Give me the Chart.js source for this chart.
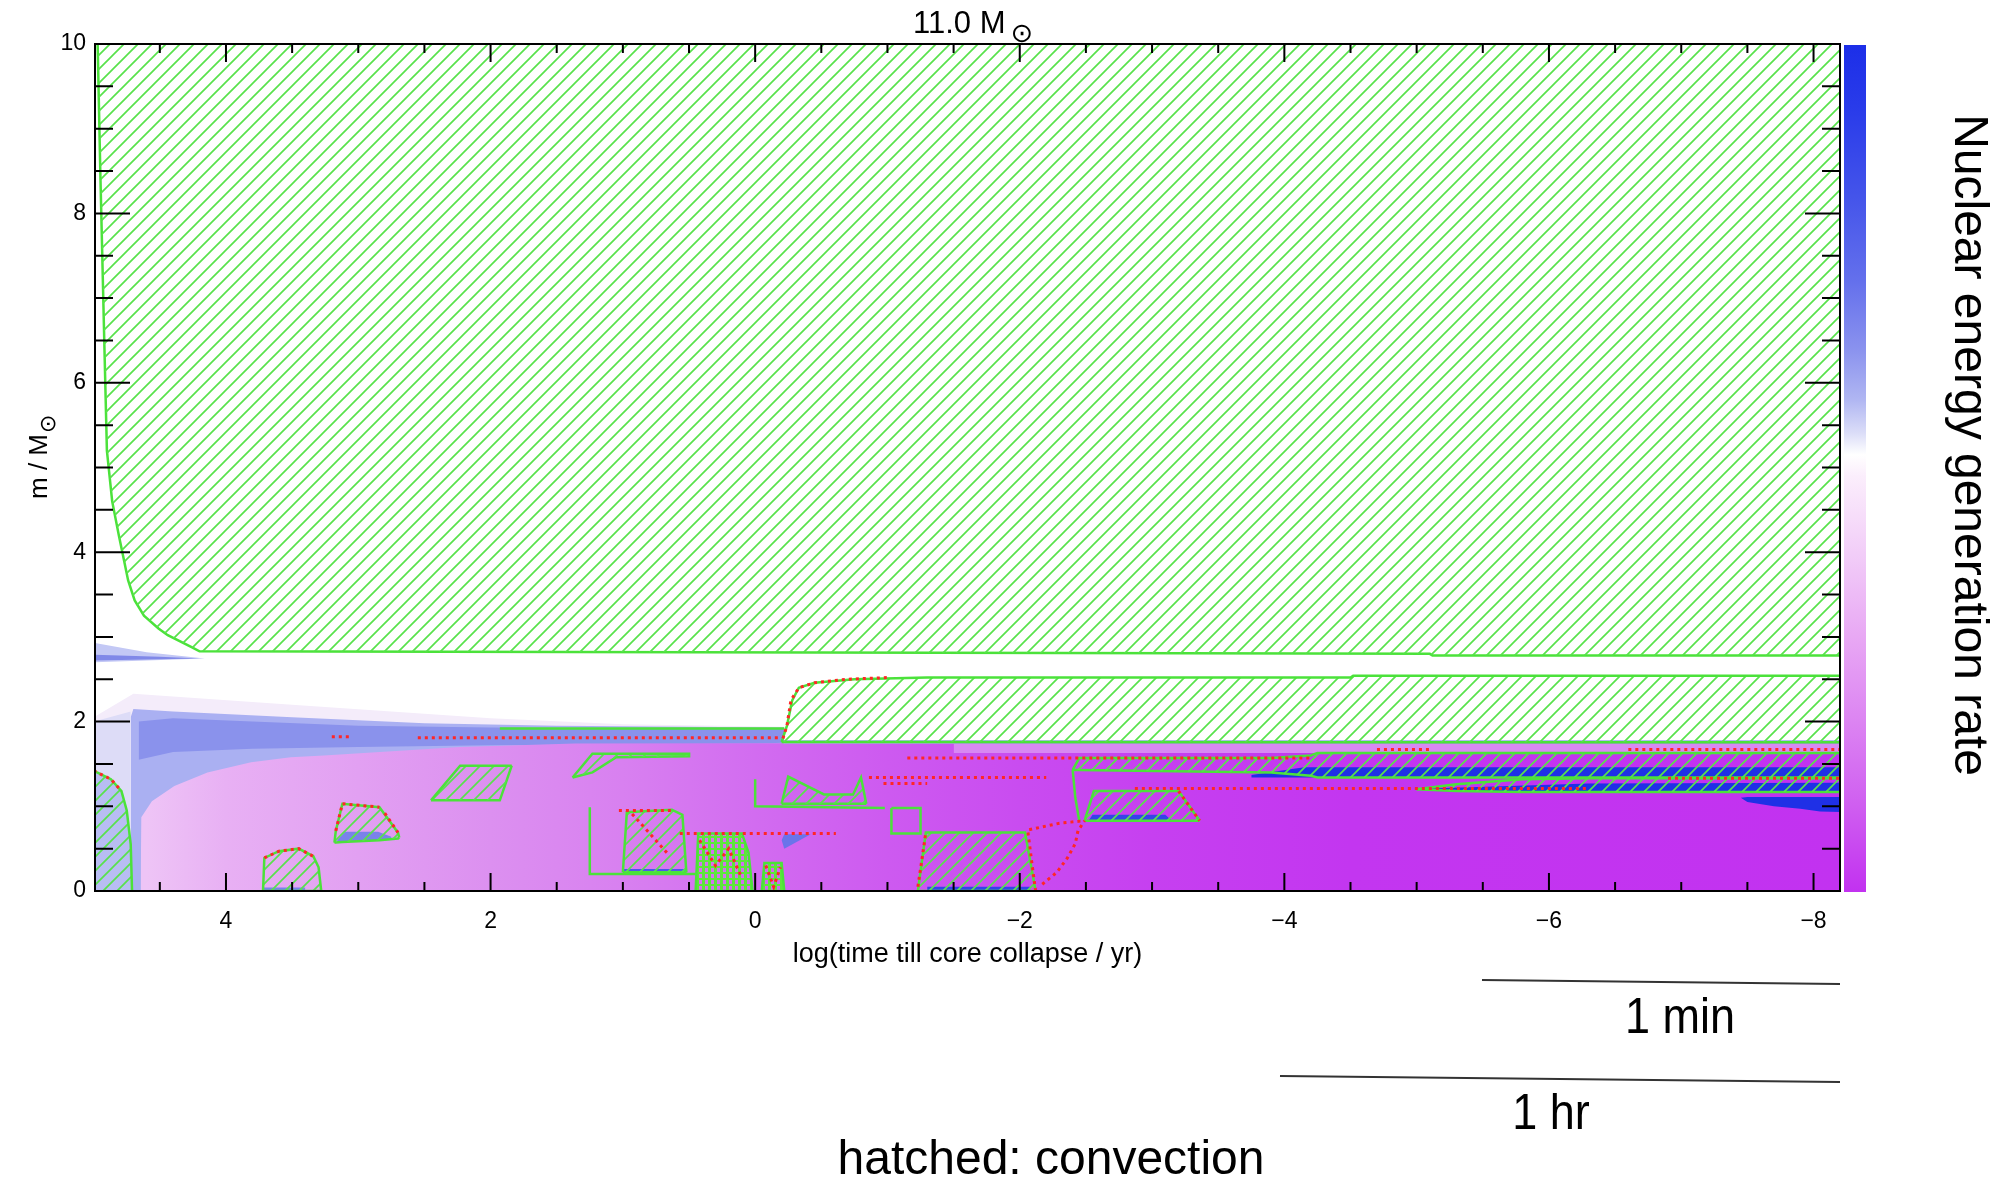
<!DOCTYPE html>
<html>
<head>
<meta charset="utf-8">
<script src="https://cdn.jsdelivr.net/npm/chart.js@4.4.1/dist/chart.umd.min.js"></script>
<style>
  html, body { margin: 0; padding: 0; background: #fff; overflow: hidden; }
</style>
</head>
<body>
<canvas id="kipp" width="2003" height="1179"></canvas>
<script>
// ---- axes ----
const xTicks = [4, 2, 0, -2, -4, -6, -8];
const yTicks = [0, 2, 4, 6, 8, 10];

// ---- colour field (energy generation), x = log(t / yr), y = m / Msun ----
const hazeX   = [5.00, 4.70, 3.50, 2.00, 1.00, -0.22];
const hazeTop = [2.05, 2.33, 2.20, 2.04, 1.97, 1.94];
const hazeBot = [0, 0, 0, 0, 0, 0];

const lavX   = [5.00, 4.72];
const lavTop = [2.00, 2.12];
const lavBot = [0, 0];

const blueLtX   = [4.72, 4.70, 4.40, 3.50, 2.50, 1.50, 0.50, -0.22];
const blueLtTop = [2.05, 2.15, 2.12, 2.05, 1.98, 1.95, 1.94, 1.93];
const blueLtBot = [0, 0, 0, 0, 0, 0, 0, 0];

const blueMidX   = [4.66, 4.40, 3.80, 3.00, 2.00, 1.00, 0.00, -0.22];
const blueMidTop = [2.00, 2.04, 2.00, 1.95, 1.93, 1.92, 1.92, 1.92];
const blueMidBot = [1.55, 1.64, 1.68, 1.70, 1.72, 1.73, 1.74, 1.75];

const pinkX   = [4.645, 4.64, 4.56, 4.39, 4.14, 3.81, 3.51, 3.26, 2.23, 1.36, 0.00, -8.30];
const pinkTop = [0.00, 0.87, 1.06, 1.24, 1.40, 1.52, 1.58, 1.60, 1.70, 1.74, 1.745, 1.745];
const pinkBot = [0, 0, 0, 0, 0, 0, 0, 0, 0, 0, 0, 0];

const stripeX   = [-0.22, -8.30];
const stripeTop = [1.78, 1.78];
const stripeBot = [1.74, 1.74];

const paleBandX   = [-1.50, -8.30];
const paleBandTop = [1.74, 1.74];
const paleBandBot = [1.63, 1.63];

const wedgeX   = [5.00, 4.60, 4.16];
const wedgeTop = [2.93, 2.82, 2.745];
const wedgeBot = [2.70, 2.72, 2.745];
const wedgeCoreX   = [5.00, 4.50, 4.20];
const wedgeCoreTop = [2.79, 2.765, 2.745];
const wedgeCoreBot = [2.72, 2.735, 2.745];

// strong burning patches (deep blue)
const b1X = [-3.75, -4.15, -8.30], b1Top = [1.37, 1.46, 1.46], b1Bot = [1.34, 1.34, 1.34];
const b2X = [-5.10, -6.30, -8.30], b2Top = [1.21, 1.27, 1.28], b2Bot = [1.18, 1.17, 1.17];
const b3X = [-7.45, -7.50, -7.70, -7.90, -8.05, -8.30];
const b3Top = [1.10, 1.11, 1.11, 1.11, 1.11, 1.11];
const b3Bot = [1.10, 1.05, 1.00, 0.97, 0.94, 0.93];
const b4X = [-2.52, -2.55, -3.10, -3.15], b4Top = [0.83, 0.90, 0.90, 0.83], b4Bot = [0.83, 0.83, 0.83, 0.83];
const b5X = [-1.30, -2.08], b5Top = [0.05, 0.05], b5Bot = [0, 0];
const b6X = [3.16, 3.10, 2.85, 2.75], b6Top = [0.60, 0.70, 0.70, 0.64], b6Bot = [0.58, 0.58, 0.60, 0.62];
const b7X = [1.00, 0.52], b7Top = [0.26, 0.26], b7Bot = [0.20, 0.20];
const b8X = [-0.20, -0.22, -0.42], b8Top = [0.60, 0.67, 0.67], b8Bot = [0.60, 0.50, 0.67];
const b9X = [3.72, 3.40], b9Top = [0.04, 0.04], b9Bot = [0, 0];

// ---- convective zones (hatched) ----
const envX   = [4.97, 4.95, 4.92, 4.90, 4.86, 4.81, 4.77, 4.74, 4.69, 4.62, 4.51, 4.44, 4.26, 4.20, -5.10, -5.12, -8.30];
const envTop = [10, 10, 10, 10, 10, 10, 10, 10, 10, 10, 10, 10, 10, 10, 10, 10, 10];
const envBot = [10.0, 8.50, 6.50, 5.20, 4.60, 4.20, 3.90, 3.67, 3.43, 3.25, 3.10, 3.02, 2.88, 2.83, 2.80, 2.78, 2.78];

const c2X   = [-0.20, -0.24, -0.28, -0.33, -0.45, -0.75, -1.30, -4.50, -4.52, -8.30];
const c2Top = [1.76, 1.95, 2.25, 2.40, 2.46, 2.50, 2.52, 2.52, 2.54, 2.54];
const c2Bot = [1.76, 1.76, 1.76, 1.76, 1.76, 1.76, 1.76, 1.755, 1.755, 1.755];

const r1X = [5.00, 4.87, 4.79, 4.75, 4.72, 4.71];
const r1Top = [1.42, 1.32, 1.18, 0.95, 0.55, 0.00];
const r1Bot = [0, 0, 0, 0, 0, 0];
const r2X = [3.72, 3.71, 3.60, 3.45, 3.34, 3.30, 3.28];
const r2Top = [0, 0.39, 0.47, 0.50, 0.41, 0.28, 0];
const r2Bot = [0, 0, 0, 0, 0, 0, 0];
const r3X = [3.18, 3.17, 3.12, 2.84, 2.70, 2.69];
const r3Top = [0.57, 0.71, 1.03, 0.99, 0.69, 0.63];
const r3Bot = [0.57, 0.574, 0.578, 0.60, 0.62, 0.63];
const r4X = [2.45, 2.23, 1.93, 1.84];
const r4Top = [1.07, 1.48, 1.48, 1.48];
const r4Bot = [1.07, 1.07, 1.07, 1.48];
const r5X = [1.38, 1.23, 1.05, 0.49];
const r5Top = [1.34, 1.62, 1.62, 1.62];
const r5Bot = [1.34, 1.40, 1.58, 1.59];
const r6X = [1.00, 0.97, 0.63, 0.55, 0.52];
const r6Top = [0.22, 0.93, 0.96, 0.90, 0.22];
const r6Bot = [0.22, 0.22, 0.22, 0.22, 0.22];
const r6dX = [0.45, 0.43, 0.10, 0.05, 0.02];
const r6dTop = [0, 0.68, 0.68, 0.45, 0];
const r6dBot = [0, 0, 0, 0, 0];
const r6eX = [-0.05, -0.07, -0.20, -0.22];
const r6eTop = [0, 0.33, 0.33, 0];
const r6eBot = [0, 0, 0, 0];
const r7X = [-0.20, -0.25, -0.52, -0.74, -0.80, -0.84];
const r7Top = [1.03, 1.35, 1.14, 1.14, 1.34, 1.03];
const r7Bot = [1.03, 1.03, 1.03, 1.03, 1.03, 1.03];
const r8X = [-1.23, -1.29, -2.04, -2.12];
const r8Top = [0, 0.69, 0.69, 0];
const r8Bot = [0, 0, 0, 0];
const r9X = [-2.49, -2.56, -3.20, -3.36];
const r9Top = [0.83, 1.18, 1.18, 0.83];
const r9Bot = [0.83, 0.83, 0.83, 0.83];
const rb1X = [-2.40, -2.45, -3.90, -4.20, -4.25, -8.30];
const rb1Top = [1.43, 1.57, 1.57, 1.60, 1.63, 1.63];
const rb1Bot = [1.43, 1.43, 1.40, 1.36, 1.34, 1.34];
const rb2X = [-5.00, -5.30, -5.80, -6.30, -8.30];
const rb2Top = [1.20, 1.26, 1.32, 1.33, 1.33];
const rb2Bot = [1.20, 1.18, 1.17, 1.17, 1.17];

// ---- boundary lines ----
const gShellX = [1.93, -0.22], gShellY = [1.92, 1.92];
const gR7X = [0.00, 0.00, -0.98], gR7Y = [1.32, 1.00, 0.98];
const gR6X = [1.25, 1.25, 0.44], gR6Y = [0.99, 0.20, 0.20];
const gBoxX = [-1.03, -1.03, -1.25, -1.25, -1.03], gBoxY = [0.98, 0.68, 0.68, 0.98, 0.98];
const gLinkX = [-2.40, -2.42, -2.45], gLinkY = [1.43, 1.10, 0.83];

const redLines = [
  [[2.55, -0.20], [1.81, 1.81]],
  [[3.20, 3.05], [1.82, 1.82]],
  [[-0.21, -0.24, -0.27, -0.33, -0.45, -0.70, -1.00], [1.80, 1.95, 2.25, 2.40, 2.46, 2.50, 2.52]],
  [[-1.15, -4.20], [1.57, 1.57]],
  [[-4.70, -5.10], [1.67, 1.67]],
  [[-6.60, -8.30], [1.67, 1.67]],
  [[-2.87, -6.30], [1.21, 1.21]],
  [[-6.90, -8.30], [1.33, 1.33]],
  [[-0.86, -2.20], [1.34, 1.34]],
  [[-0.97, -1.30], [1.27, 1.27]],
  [[0.57, -0.61], [0.68, 0.68]],
  [[1.03, 0.63], [0.95, 0.95]],
  [[-2.12, -2.09, -2.06, -2.30, -2.49], [0.00, 0.35, 0.72, 0.80, 0.83]],
  [[-2.17, -2.28, -2.36, -2.42, -2.44, -2.49], [0.08, 0.22, 0.39, 0.56, 0.71, 0.83]],
  [[5.00, 4.87, 4.79], [1.42, 1.32, 1.18]],
  [[3.71, 3.60, 3.45, 3.34], [0.39, 0.47, 0.50, 0.41]],
  [[3.17, 3.12, 2.84], [0.71, 1.03, 0.99]],
  [[2.80, 2.70], [0.92, 0.69]],
  [[-1.23, -1.29], [0.05, 0.69]],
  [[-3.20, -3.36], [1.18, 0.83]],
  [[0.93, 0.66], [0.91, 0.44]],
  [[0.42, 0.30, 0.20, 0.10], [0.60, 0.30, 0.50, 0.15]],
  [[-0.08, -0.14, -0.19], [0.30, 0.05, 0.28]]
];

const pinkStops = [[4.6, '#eec4f6'], [4.0, '#e8b0f4'], [3.0, '#e2a0f2'], [2.0, '#dc90f0'], [1.0, '#d880f0'],
  [0.0, '#d26cf0'], [-1.0, '#cd5af0'], [-2.0, '#c94cf0'], [-3.0, '#c640f0'], [-4.5, '#c336f0'], [-8.2, '#c232f0']];
const barStops = [[0, '#1c2ee8'], [0.08, '#2a3cea'], [0.18, '#4454ea'], [0.28, '#6470ec'], [0.36, '#8a92ee'],
  [0.42, '#b0b6f2'], [0.46, '#dcdef8'], [0.485, '#ffffff'], [0.51, '#fbeefc'], [0.6, '#f2cef8'],
  [0.7, '#e8a8f4'], [0.8, '#dc84f2'], [0.9, '#cf5ef0'], [1, '#c232f0']];

const GREEN = '#4be23a';
const RED = '#ff2626';
const DEEP = '#1f30e6';

function makePattern(size, draw) {
  const c = document.createElement('canvas');
  c.width = size; c.height = size;
  const g = c.getContext('2d');
  draw(g, size);
  return g.createPattern(c, 'repeat');
}
const hatch = makePattern(14, (g, s) => {
  g.strokeStyle = '#58e24c';
  g.lineWidth = 1.7;
  g.beginPath();
  g.moveTo(-2, s + 2); g.lineTo(s + 2, -2);
  g.moveTo(-2, 2); g.lineTo(2, -2);
  g.moveTo(s - 2, s + 2); g.lineTo(s + 2, s - 2);
  g.stroke();
});
// dense, nearly solid convective clutter
const dense = makePattern(6, (g, s) => {
  g.fillStyle = '#5ee63c';
  g.fillRect(0, 0, 3, s);
  g.fillRect(3, 2, 3, 2);
});

function pinkFill(context) {
  const chart = context.chart;
  const xs = chart.scales.x;
  if (!chart.chartArea || !xs) return '#d070f0';
  const x0 = xs.getPixelForValue(5), x1 = xs.getPixelForValue(-8.2);
  const g = chart.ctx.createLinearGradient(x0, 0, x1, 0);
  pinkStops.forEach(([v, c]) => g.addColorStop(Math.min(1, Math.max(0, (xs.getPixelForValue(v) - x0) / (x1 - x0))), c));
  return g;
}

const datasets = [];
const pts = (xs, ys) => xs.map((x, i) => ({ x, y: ys[i] }));

function region(xs, top, bot, fillStyle, edges) {
  edges = edges || {};
  const low = datasets.length;
  datasets.push({ data: pts(xs, bot), fill: false,
    borderColor: edges.bot || 'rgba(0,0,0,0)', borderWidth: edges.bot ? 2.5 : 1 });
  datasets.push({ data: pts(xs, top), fill: low, backgroundColor: fillStyle,
    borderColor: edges.top || 'rgba(0,0,0,0)', borderWidth: edges.top ? 2.5 : 1 });
}
function line(xs, ys, color, dash) {
  datasets.push({ data: pts(xs, ys), fill: false, borderColor: color,
    borderWidth: dash ? 3 : 2.5, borderDash: dash || [] });
}
const both = { top: GREEN, bot: GREEN };

// background colour field
region(hazeX, hazeTop, hazeBot, '#f4ecfa');
region(lavX, lavTop, lavBot, '#dddcf7');
region(blueLtX, blueLtTop, blueLtBot, '#aab0f2');
region(blueMidX, blueMidTop, blueMidBot, '#8a92ec');
region(pinkX, pinkTop, pinkBot, pinkFill);
region(paleBandX, paleBandTop, paleBandBot, '#d888f3');
region(stripeX, stripeTop, stripeBot, '#9aa0ee');
region(wedgeX, wedgeTop, wedgeBot, '#c3c8f5');
region(wedgeCoreX, wedgeCoreTop, wedgeCoreBot, '#8088e8');
region(r1X, r1Top, r1Bot, '#b8bdf3');
region(b1X, b1Top, b1Bot, DEEP);
region(b2X, b2Top, b2Bot, DEEP);
region(b3X, b3Top, b3Bot, DEEP);
region(b4X, b4Top, b4Bot, '#3444e8');
region(b5X, b5Top, b5Bot, '#3444e8');
region(b6X, b6Top, b6Bot, '#7a82ea');
region(b7X, b7Top, b7Bot, '#4a58e8');
region(b8X, b8Top, b8Bot, '#6a74ea');
region(b9X, b9Top, b9Bot, '#7a82ea');

// convective zones
region(envX, envTop, envBot, hatch, { bot: GREEN });
region(c2X, c2Top, c2Bot, hatch, both);
region(r1X, r1Top, r1Bot, hatch, { top: GREEN });
region(r2X, r2Top, r2Bot, hatch, both);
region(r3X, r3Top, r3Bot, hatch, both);
region(r4X, r4Top, r4Bot, hatch, both);
region(r5X, r5Top, r5Bot, hatch, both);
region(r6X, r6Top, r6Bot, hatch, both);
region(r6dX, r6dTop, r6dBot, dense, both);
region(r6eX, r6eTop, r6eBot, dense, both);
region(r7X, r7Top, r7Bot, hatch, both);
region(r8X, r8Top, r8Bot, hatch, both);
region(r9X, r9Top, r9Bot, hatch, both);
region(rb1X, rb1Top, rb1Bot, hatch, both);
region(rb2X, rb2Top, rb2Bot, hatch, both);

line(gShellX, gShellY, GREEN);
line(gR7X, gR7Y, GREEN);
line(gR6X, gR6Y, GREEN);
line(gBoxX, gBoxY, GREEN);
line(gLinkX, gLinkY, GREEN);
redLines.forEach(([xs, ys]) => line(xs, ys, RED, [3, 4]));

datasets.forEach((d, i) => {
  d.order = datasets.length - i;
  d.pointRadius = 0;
  d.tension = 0;
});

const decor = {
  id: 'decor',
  afterDatasetsDraw(chart) {
    const { ctx, chartArea: a, scales: { x, y } } = chart;
    ctx.save();
    ctx.strokeStyle = '#000';
    ctx.lineWidth = 2;
    ctx.strokeRect(a.left, a.top, a.right - a.left, a.bottom - a.top);
    ctx.beginPath();
    for (let v = -8; v <= 4.5; v += 0.5) {
      const px = x.getPixelForValue(v);
      const len = xTicks.includes(v) ? 18 : 9;
      ctx.moveTo(px, a.bottom); ctx.lineTo(px, a.bottom - len);
      ctx.moveTo(px, a.top); ctx.lineTo(px, a.top + len);
    }
    for (let v = 0.5; v < 10; v += 0.5) {
      const py = y.getPixelForValue(v);
      const len = yTicks.includes(v) ? 35 : 18;
      ctx.moveTo(a.left, py); ctx.lineTo(a.left + len, py);
      ctx.moveTo(a.right, py); ctx.lineTo(a.right - len, py);
    }
    ctx.stroke();
    ctx.restore();
  },
  afterDraw(chart) {
    const { ctx, chartArea: a } = chart;
    ctx.save();
    // colour bar
    const g = ctx.createLinearGradient(0, a.top, 0, a.bottom);
    barStops.forEach(([p, c]) => g.addColorStop(p, c));
    ctx.fillStyle = g;
    ctx.fillRect(a.right + 4, a.top + 1, 22, a.bottom - a.top);

    ctx.fillStyle = '#000';
    // title
    ctx.font = '31px "Liberation Sans", Arial, sans-serif';
    ctx.textAlign = 'left';
    ctx.textBaseline = 'alphabetic';
    ctx.fillText('11.0 M', 913, 33);
    ctx.font = '27px "DejaVu Sans", sans-serif';
    ctx.textAlign = 'center';
    ctx.textBaseline = 'middle';
    ctx.fillText('\u2299', 1022, 35);

    // y title
    ctx.save();
    ctx.translate(40, 457);
    ctx.rotate(-Math.PI / 2);
    ctx.font = '26px "Liberation Sans", Arial, sans-serif';
    ctx.textAlign = 'left';
    ctx.textBaseline = 'middle';
    ctx.fillText('m / M', -42, 0);
    ctx.font = '22px "DejaVu Sans", sans-serif';
    ctx.fillText('\u2299', 24, 9);
    ctx.restore();

    // right label
    ctx.save();
    ctx.translate(1968, 445);
    ctx.rotate(Math.PI / 2);
    ctx.font = '48px "Liberation Sans", Arial, sans-serif';
    ctx.textAlign = 'center';
    ctx.textBaseline = 'middle';
    ctx.fillText('Nuclear energy generation rate', 0, 0);
    ctx.restore();

    // time markers below the plot
    ctx.strokeStyle = '#333';
    ctx.lineWidth = 2;
    ctx.beginPath();
    ctx.moveTo(1482, 980); ctx.lineTo(1840, 984);
    ctx.moveTo(1280, 1076); ctx.lineTo(1840, 1082);
    ctx.stroke();
    ctx.font = '50px "Liberation Sans", Arial, sans-serif';
    ctx.textAlign = 'center';
    ctx.textBaseline = 'middle';
    ctx.save(); ctx.translate(1680, 1019); ctx.scale(0.9, 1); ctx.fillText('1 min', 0, 0); ctx.restore();
    ctx.save(); ctx.translate(1551, 1115); ctx.scale(0.9, 1); ctx.fillText('1 hr', 0, 0); ctx.restore();
    ctx.font = '48px "Liberation Sans", Arial, sans-serif';
    ctx.textBaseline = 'alphabetic';
    ctx.fillText('hatched: convection', 1051, 1174);
    ctx.restore();
  }
};

Chart.defaults.font.family = '"Liberation Sans", Arial, sans-serif';
Chart.defaults.color = '#000';

new Chart(document.getElementById('kipp'), {
  type: 'line',
  data: { datasets },
  options: {
    responsive: false,
    animation: false,
    events: [],
    layout: { padding: { left: 0, right: 163, top: 44, bottom: 208 } },
    plugins: { legend: { display: false }, tooltip: { enabled: false }, title: { display: false } },
    scales: {
      x: {
        type: 'linear', reverse: true, min: -8.2, max: 4.99,
        grid: { display: false, drawTicks: false }, border: { display: false },
        ticks: { stepSize: 2, includeBounds: false, padding: 17, font: { size: 23 },
          callback: v => (v < 0 ? '\u2212' + Math.abs(v) : String(v)) },
        title: { display: true, text: 'log(time till core collapse / yr)', font: { size: 27 }, padding: 0 },
        afterFit: s => { s.height = 80; }
      },
      y: {
        type: 'linear', min: 0, max: 10,
        grid: { display: false, drawTicks: false }, border: { display: false },
        ticks: { stepSize: 2, padding: 9, font: { size: 23 } },
        afterFit: s => { s.width = 95; }
      }
    }
  },
  plugins: [decor]
});
</script>
</body>
</html>
